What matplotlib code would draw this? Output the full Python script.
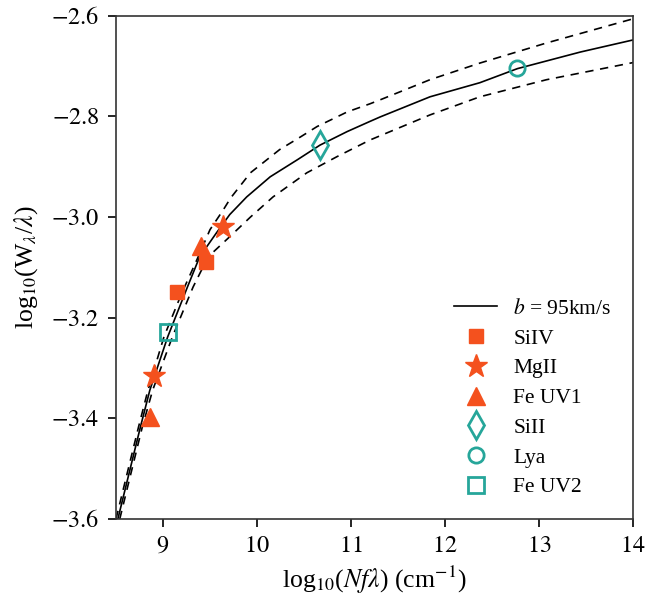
import numpy as np
import matplotlib
matplotlib.use("Agg")
import matplotlib.pyplot as plt
from matplotlib.ticker import FuncFormatter

plt.rcParams['font.family'] = ['Liberation Serif', 'DejaVu Serif']
plt.rcParams['mathtext.fontset'] = 'stix'

# curve of growth, b = 95 km/s
cog_x = [8.52, 8.76, 8.86, 9.05, 9.26, 9.39, 9.57, 9.71, 9.89, 10.14,
         10.43, 10.67, 10.96, 11.20, 11.31, 11.84, 12.37, 12.77, 13.44, 14.0]
cog_y = [-3.600, -3.417, -3.344, -3.238, -3.139, -3.079, -3.031, -2.995,
         -2.960, -2.920, -2.886, -2.857, -2.830, -2.810, -2.801, -2.761,
         -2.733, -2.705, -2.672, -2.648]

# dashed envelope
up_x = [8.50, 8.74, 8.84, 9.01, 9.20, 9.36, 9.50, 9.64, 9.72, 9.93, 10.24,
        10.46, 10.64, 10.96, 11.20, 11.31, 11.84, 12.37, 13.08, 14.0]
up_y = [-3.600, -3.417, -3.344, -3.238, -3.151, -3.085, -3.025, -2.986,
        -2.962, -2.912, -2.866, -2.841, -2.820, -2.791, -2.775, -2.767,
        -2.727, -2.694, -2.654, -2.606]

lo_x = [8.54, 8.78, 8.89, 9.10, 9.32, 9.48, 9.71, 9.93, 10.17, 10.53,
        10.85, 11.20, 11.84, 12.37, 13.08, 14.0]
lo_y = [-3.600, -3.417, -3.344, -3.238, -3.139, -3.079, -3.039, -3.000,
        -2.960, -2.912, -2.880, -2.847, -2.797, -2.761, -2.727, -2.693]

# measured lines
siiv_x, siiv_y = [9.15, 9.46], [-3.149, -3.090]
mgii_x, mgii_y = [8.90, 9.64], [-3.316, -3.019]
feuv1_x, feuv1_y = [8.86, 9.40], [-3.397, -3.057]
sii_x, sii_y = [10.67], [-2.856]
lya_x, lya_y = [12.76], [-2.703]
feuv2_x, feuv2_y = [9.05], [-3.228]

orange = '#f4511e'
teal = '#26a69a'

fig = plt.figure(figsize=(6.48, 6.07), dpi=100)
ax = fig.add_axes([0.179, 0.145, 0.798, 0.829])

ax.plot(cog_x, cog_y, color='black', lw=1.2, label='$b$ = 95km/s')
ax.plot(up_x, up_y, color='black', lw=1.2, ls=(0, (5, 4)))
ax.plot(lo_x, lo_y, color='black', lw=1.2, ls=(0, (5, 4)))

ax.plot(siiv_x, siiv_y, 's', color=orange, ms=9.5, ls='none', label='SiIV')
ax.plot(mgii_x, mgii_y, '*', color=orange, ms=17, ls='none', label='MgII')
ax.plot(feuv1_x, feuv1_y, '^', color=orange, ms=13, ls='none', label='Fe UV1')
ax.plot(sii_x, sii_y, 'd', mfc='none', mec=teal, mew=2, ms=14, ls='none', label='SiII')
ax.plot(lya_x, lya_y, 'o', mfc='none', mec=teal, mew=2, ms=11, ls='none', label='Lya')
ax.plot(feuv2_x, feuv2_y, 's', mfc='none', mec=teal, mew=2, ms=12, ls='none', label='Fe UV2')

ax.set_xlim(8.5, 14)
ax.set_ylim(-3.6, -2.6)
ax.set_xticks([9, 10, 11, 12, 13, 14])
ax.set_yticks([-3.6, -3.4, -3.2, -3.0, -2.8, -2.6])
ax.yaxis.set_major_formatter(FuncFormatter(lambda v, p: f'${v:.1f}$'))
ax.xaxis.set_major_formatter(FuncFormatter(lambda v, p: f'${v:.0f}$'))
ax.tick_params(labelsize=17.5, length=6, width=1.2, pad=6)
for s in ax.spines.values():
    s.set_linewidth(1.2)
    s.set_color('#333333')
ax.set_xlabel(r'log$_{10}$($Nf\lambda$) (cm$^{-1}$)', fontsize=18.5, labelpad=5)
ax.set_ylabel(r'log$_{10}$(W$_\lambda$/$\lambda$)', fontsize=18.5, labelpad=8)

ax.legend(loc='lower right', frameon=False, fontsize=15.5, handlelength=2.0,
          handletextpad=0.75, labelspacing=0.45, borderaxespad=0.6)

fig.savefig('out.png', dpi=100)
